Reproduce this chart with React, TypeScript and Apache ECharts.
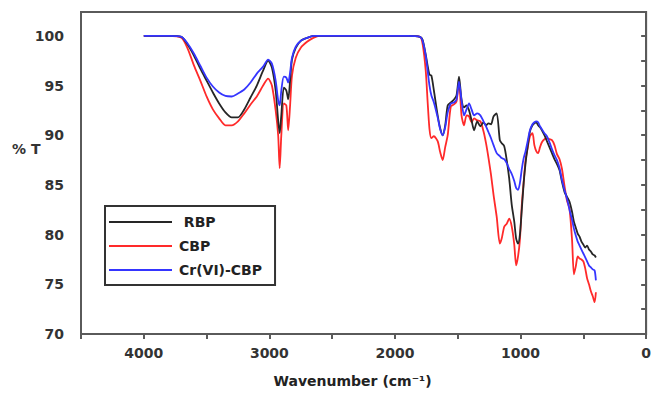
import React, { useEffect, useRef } from "react";
import * as echarts from "echarts";

const wavenumbers = [
  4000, 3900, 3800, 3700, 3650, 3600, 3550, 3500, 3450, 3400, 3350, 3300, 3250, 3200, 3150, 3100, 3050, 3010,
  2980, 2950, 2930, 2918, 2905, 2885, 2865, 2850, 2835, 2820, 2790, 2750, 2700, 2650, 2600, 2400, 2200, 2000,
  1900, 1800, 1780, 1755, 1740, 1725, 1710, 1690, 1660, 1640, 1620, 1600, 1580, 1555, 1530, 1510, 1490, 1470,
  1450, 1430, 1410, 1390, 1370, 1345, 1320, 1295, 1275, 1255, 1235, 1215, 1190, 1165, 1150, 1130, 1110, 1090,
  1070, 1050, 1035, 1020, 1005, 990, 975, 960, 945, 925, 905, 890, 875, 860, 845, 830, 810, 790, 770, 750, 730,
  710, 690, 670, 650, 630, 610, 590, 575, 560, 545, 530, 515, 500, 485, 470, 455, 440, 425, 410, 400,
];

const rbp = [
  100.0, 100.0, 100.0, 99.9, 99.1, 98.0, 96.7, 95.5, 94.3, 93.2, 92.3, 91.8, 91.8, 92.6, 93.8, 95.0, 96.5, 97.5,
  96.8, 94.5, 91.5, 90.2, 92.0, 94.8, 94.5, 93.6, 95.5, 97.6, 98.8, 99.5, 99.8, 100.0, 100.0, 100.0, 100.0, 100.0,
  100.0, 99.9, 99.6, 98.1, 97.0, 96.1, 96.0, 94.5, 92.0, 90.7, 90.0, 91.0, 93.0, 93.3, 93.6, 94.0, 95.9, 93.6,
  92.8, 93.0, 92.5, 91.5, 90.5, 91.4, 90.9, 91.3, 91.0, 91.2, 91.1, 91.9, 92.2, 89.5, 89.2, 88.9, 87.5, 85.6,
  83.0, 81.3, 79.6, 79.1, 80.0, 82.5, 85.2, 87.2, 88.7, 90.4, 91.0, 91.2, 91.3, 91.0, 90.8, 90.5, 90.0, 89.4,
  88.8, 88.2, 87.6, 87.1, 86.5, 85.3, 84.3, 83.8, 83.3, 82.3, 81.3, 80.7, 80.1, 79.8, 79.3, 79.0, 78.7, 78.9,
  78.5, 78.3, 78.0, 77.9, 77.7,
];

const cbp = [
  100.0, 100.0, 100.0, 99.8, 98.7, 97.0, 95.5, 93.9, 92.6, 91.7, 91.0, 91.0, 91.4, 92.2, 93.1, 93.9, 95.0, 95.7,
  95.0, 92.5, 90.0, 86.7, 90.0, 93.2, 93.0, 90.5, 93.0, 96.0, 97.8, 98.8, 99.4, 99.8, 100.0, 100.0, 100.0, 100.0,
  100.0, 99.9, 99.2, 96.5, 93.4, 90.6, 89.7, 89.9, 89.4, 88.3, 87.5, 88.8, 90.0, 92.9, 93.1, 93.4, 95.4, 92.0,
  91.0, 92.0, 91.9, 91.3, 91.7, 91.5, 91.4, 90.4, 89.2, 87.7, 86.0, 84.0, 81.8, 79.1, 79.6, 80.8, 81.1, 81.6,
  80.8, 79.0, 76.9, 77.8, 79.5, 83.0, 85.3, 87.5, 88.6, 89.9, 90.2, 89.0, 88.4, 88.2, 88.8, 89.3, 89.6, 89.7,
  89.6, 89.5, 89.0, 88.1, 87.6, 86.6, 84.9, 83.4, 82.6, 79.5, 76.0, 76.8, 77.8, 77.6, 77.5, 77.3, 76.6, 75.6,
  75.0, 74.3, 73.8, 73.2, 74.2,
];

const crCbp = [
  100.0, 100.0, 100.0, 99.9, 99.2, 98.2, 97.0, 95.8, 94.9, 94.3, 93.95, 93.9, 94.2, 94.6, 95.3, 96.2, 96.9, 97.6,
  97.2, 95.5, 93.5, 93.0, 94.5, 95.9, 95.8, 95.3, 96.3, 97.8, 98.9, 99.5, 99.8, 100.0, 100.0, 100.0, 100.0, 100.0,
  100.0, 99.9, 99.5, 98.0, 96.5, 95.0, 94.0, 93.3, 91.8, 90.6, 90.0, 90.8, 92.3, 93.2, 93.3, 93.6, 95.4, 93.5,
  92.0, 92.6, 93.2, 92.6, 92.0, 92.2, 92.0, 91.4, 90.9, 90.3, 89.7, 89.0, 88.2, 87.9, 87.7, 87.6, 87.2, 86.6,
  86.1, 85.4, 84.7, 84.5, 85.2, 86.6, 87.7, 88.4, 89.3, 90.5, 91.1, 91.3, 91.4, 91.3, 90.9, 90.6, 90.2, 89.9,
  89.3, 88.6, 88.0, 87.5, 86.7, 85.5, 84.5, 83.6, 82.5, 81.5, 80.6, 79.9, 79.3, 78.9, 78.5, 78.1, 77.7, 77.3,
  76.9, 76.7, 76.5, 76.4, 75.4,
];

const seriesNames = ["RBP", "CBP", "Cr(VI)-CBP"];
const xTickLabels = ["4000", "3000", "2000", "1000", "0"];
const yTickLabels = ["70", "75", "80", "85", "90", "95", "100"];

const FONT = "DejaVu Sans";
const AXIS_COLOR = "#5a5a5a";

function pairs(values: number[]) {
  return wavenumbers.map((w, i) => [w, values[i]]);
}

export default function App() {
  const ref = useRef<HTMLDivElement>(null);

  useEffect(() => {
    if (!ref.current) return;
    const chart = echarts.init(ref.current, null, { renderer: "svg" });
    const lineSeries = (name: string, values: number[], color: string, z: number) => ({
      name,
      type: "line",
      data: pairs(values),
      showSymbol: false,
      smooth: 0.25,
      z,
      lineStyle: { color, width: 1.8 },
      itemStyle: { color },
    });
    chart.setOption({
      animation: false,
      backgroundColor: "#ffffff",
      grid: {
        left: 81,
        right: 4,
        top: 12,
        bottom: 62,
        show: true,
        borderColor: AXIS_COLOR,
        borderWidth: 2,
      },
      legend: {
        data: seriesNames,
        orient: "vertical",
        left: 105,
        top: 206,
        padding: [8, 13, 7, 4],
        itemGap: 8,
        itemWidth: 63,
        itemHeight: 2,
        icon: "rect",
        borderColor: "#333",
        borderWidth: 2,
        backgroundColor: "#ffffff",
        formatter: (name: string) => (name === "RBP" ? " RBP" : name),
        textStyle: {
          fontFamily: FONT,
          fontWeight: "bold",
          fontSize: 14,
          lineHeight: 16,
          color: "#222",
          padding: [0, 0, 0, 2],
        },
      },
      xAxis: {
        type: "value",
        min: 0,
        max: 4500,
        interval: 500,
        inverse: true,
        name: "Wavenumber (cm\u207B\u00B9)",
        nameLocation: "middle",
        nameGap: 40,
        nameTextStyle: {
          fontFamily: FONT,
          fontWeight: "bold",
          fontSize: 14,
          color: "#222",
          padding: [0, 22, 0, 0],
        },
        axisLine: { show: true, lineStyle: { color: AXIS_COLOR, width: 2 } },
        axisTick: { show: true, inside: false, length: 5, lineStyle: { color: AXIS_COLOR, width: 2 } },
        axisLabel: {
          margin: 12,
          fontFamily: FONT,
          fontWeight: "bold",
          fontSize: 14,
          color: "#333",
          formatter: (v: number) => (xTickLabels.includes(String(v)) ? String(v) : ""),
        },
        splitLine: { show: false },
      },
      yAxis: {
        type: "value",
        min: 70,
        max: 102.4,
        interval: 2.5,
        axisLine: { show: true, lineStyle: { color: AXIS_COLOR, width: 2 } },
        axisTick: { show: true, inside: false, length: 5, lineStyle: { color: AXIS_COLOR, width: 2 } },
        axisLabel: {
          margin: 17,
          fontFamily: FONT,
          fontWeight: "bold",
          fontSize: 14,
          color: "#333",
          formatter: (v: number) => (yTickLabels.includes(String(v)) ? String(v) : ""),
        },
        splitLine: { show: false },
      },
      graphic: [
        {
          type: "text",
          left: 12,
          top: 142,
          style: {
            text: "% T",
            fontFamily: FONT,
            fontWeight: "bold",
            fontSize: 14,
            fill: "#333",
          },
        },
      ],
      series: [
        lineSeries("CBP", cbp, "#ff2a2a", 2),
        lineSeries("RBP", rbp, "#262626", 3),
        lineSeries("Cr(VI)-CBP", crCbp, "#3535ff", 4),
      ],
    });
    return () => chart.dispose();
  }, []);

  return <div ref={ref} style={{ width: 654, height: 396, position: "absolute", left: 0, top: 0 }} />;
}
